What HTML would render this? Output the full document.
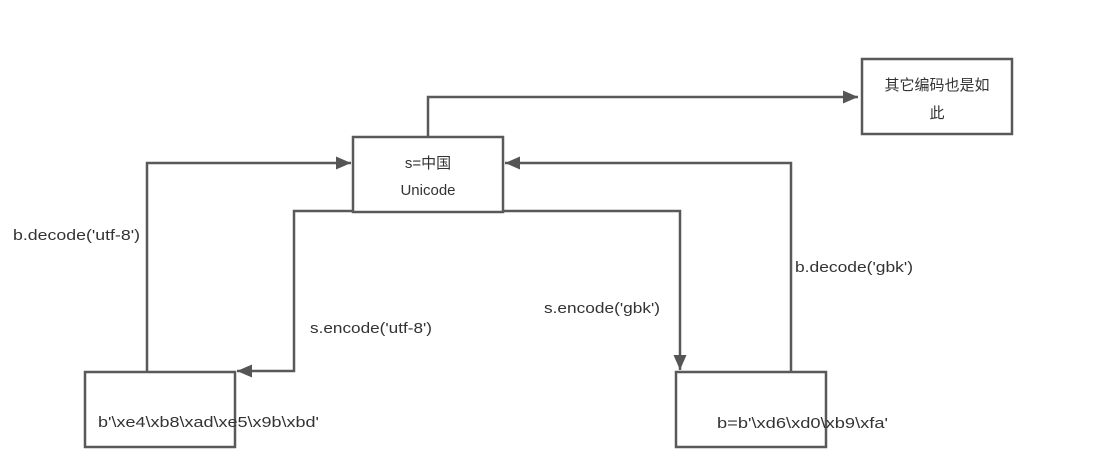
<!DOCTYPE html>
<html><head><meta charset="utf-8"><style>
html,body{margin:0;padding:0;background:#fff;width:1104px;height:471px;overflow:hidden}
text{font-family:"Liberation Sans","Noto Sans CJK SC",sans-serif;font-size:15px;fill:#333}
</style></head><body>
<svg width="1104" height="471" xmlns="http://www.w3.org/2000/svg">
<defs><marker id="a" markerWidth="10" markerHeight="10" refX="9" refY="5" orient="auto" markerUnits="userSpaceOnUse"><path d="M0,0 L10,5 L0,10 z" fill="#555"/></marker>
<marker id="b" markerWidth="16" markerHeight="14" refX="15" refY="6.5" orient="auto" markerUnits="userSpaceOnUse"><path d="M0,0 L15,6.5 L0,13 z" fill="#555"/></marker></defs>
<g fill="none" stroke="#595959" stroke-width="2.5">
<path d="M428,137 V97 H858" marker-end="url(#b)"/>
<path d="M147,372 V163 H351" marker-end="url(#b)"/>
<path d="M353,211 H294 V371 H237" marker-end="url(#b)"/>
<path d="M503,211 H680 V370" marker-end="url(#b)"/>
<path d="M791,372 V163 H505" marker-end="url(#b)"/>
<rect x="353" y="137" width="150" height="75" fill="#fff"/>
<rect x="85" y="372" width="150" height="75"/>
<rect x="676" y="372" width="150" height="75"/>
<rect x="862" y="59" width="150" height="75" fill="#fff"/>
</g>
<text x="428" y="168" text-anchor="middle">s=中国</text>
<text x="428" y="195" text-anchor="middle">Unicode</text>
<text x="937" y="90" text-anchor="middle">其它编码也是如</text>
<text x="937" y="118" text-anchor="middle">此</text>
<text x="13" y="240" textLength="127" lengthAdjust="spacingAndGlyphs">b.decode('utf-8')</text>
<text x="310" y="333" textLength="122" lengthAdjust="spacingAndGlyphs">s.encode('utf-8')</text>
<text x="544" y="313" textLength="116" lengthAdjust="spacingAndGlyphs">s.encode('gbk')</text>
<text x="795" y="272" textLength="118" lengthAdjust="spacingAndGlyphs">b.decode('gbk')</text>
<text x="98" y="427" textLength="221" lengthAdjust="spacingAndGlyphs">b'\xe4\xb8\xad\xe5\x9b\xbd'</text>
<text x="717" y="428" textLength="171" lengthAdjust="spacingAndGlyphs">b=b'\xd6\xd0\xb9\xfa'</text>
</svg>
</body></html>
